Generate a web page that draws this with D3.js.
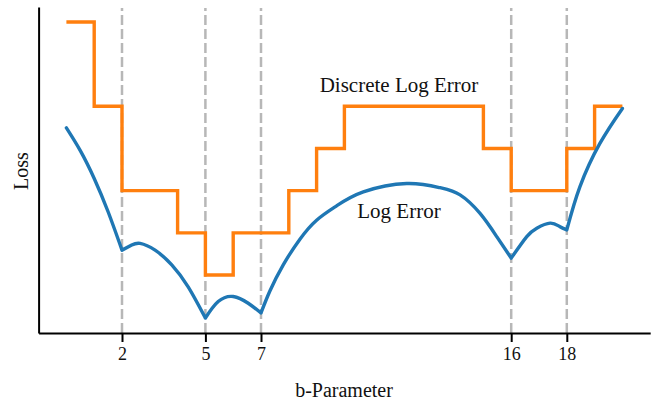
<!DOCTYPE html>
<html>
<head>
<meta charset="utf-8">
<script src="https://cdn.jsdelivr.net/npm/d3@7"></script>
<style>
    body { margin: 0; background: #fff; }
    text { font-family: "Liberation Serif", "DejaVu Serif", serif; fill: #111; }
</style>
</head>
<body>
<svg id="id-grafica" width="667" height="404"></svg>
<script>
// Valores del eje x marcados
const bTicks = [2, 5, 7, 16, 18];

// Error logarítmico discreto (escalones)
const stepB = [0, 1, 2, 4, 5, 6, 8, 9, 10, 15, 16, 18, 19, 20];
const stepLoss = [7, 5, 3, 2, 1, 2, 3, 4, 5, 4, 3, 4, 5, 5];

// Error logarítmico
const logB = [0, 0.5, 1, 1.5, 2,
    2.35, 2.65, 3.19, 3.79, 4.38, 5,
    5.46, 6.0, 6.54, 7,
    7.32, 7.8, 8.4, 9.0, 9.72, 10.68, 12.24, 13.44, 14.16, 14.88, 15.48, 16,
    16.56, 16.92, 17.4, 17.74, 18,
    18.47, 19.19, 20];
const logLoss = [4.49, 3.95, 3.29, 2.50, 1.59,
    1.71, 1.75, 1.59, 1.24, 0.72, -0.02,
    0.37, 0.49, 0.33, 0.10,
    0.62, 1.24, 1.85, 2.30, 2.64, 2.97, 3.17, 3.07, 2.90, 2.46, 1.91, 1.40,
    1.91, 2.11, 2.23, 2.15, 2.07,
    3.09, 4.12, 4.95];

let svg = d3.select("#id-grafica"),
    width = 667,
    height = 404;

// Escalas
let x = d3.scaleLinear().domain([-1, 21]).range([38.6, 650.2]);
let y = d3.scaleLinear().domain([-0.375, 7.355]).range([333, 7]);

// Líneas verticales discontinuas (de abajo hacia arriba)
svg.selectAll("line.guia")
    .data(bTicks)
    .enter()
    .append("line")
    .attr("class", "guia")
    .attr("x1", d => x(d)).attr("x2", d => x(d))
    .attr("y1", 333).attr("y2", 8)
    .attr("stroke", "#b7b7b7")
    .attr("stroke-width", 2.5)
    .attr("stroke-dasharray", "10,4");

// Escalones naranjas
let stepLine = d3.line()
    .x(d => x(d[0]))
    .y(d => y(d[1]))
    .curve(d3.curveStepAfter);

svg.append("path")
    .datum(d3.zip(stepB, stepLoss))
    .attr("d", stepLine)
    .attr("fill", "none")
    .attr("stroke", "#ff7f0e")
    .attr("stroke-width", 3.4);

// Curva azul: un tramo entre cada mínimo para que los picos queden marcados
let cortes = [0].concat(bTicks, [20]);
let puntos = d3.zip(logB, logLoss);
let tramos = d3.pairs(cortes).map(([a, b]) => puntos.filter(p => p[0] >= a && p[0] <= b));

let logLine = d3.line()
    .x(d => x(d[0]))
    .y(d => y(d[1]))
    .curve(d3.curveNatural);

svg.append("path")
    .attr("d", tramos.map(t => logLine(t)).join(""))
    .attr("fill", "none")
    .attr("stroke", "#1f77b4")
    .attr("stroke-width", 3.4)
    .attr("stroke-linecap", "round")
    .attr("stroke-linejoin", "round");

// Ejes
let ejeX = svg.append("g")
    .attr("transform", "translate(0,333)")
    .call(d3.axisBottom(x).tickValues(bTicks).tickSize(9).tickSizeOuter(0).tickPadding(5));

let ejeY = svg.append("g")
    .attr("transform", "translate(38.6,0)")
    .call(d3.axisLeft(y).tickValues([]).tickSizeOuter(0));

svg.selectAll(".domain").attr("stroke", "#000").attr("stroke-width", 2);
ejeX.selectAll(".tick line").attr("stroke", "#000").attr("stroke-width", 2);
ejeX.selectAll(".tick text")
    .attr("font-size", 18)
    .attr("fill", "#111");

// Títulos de ejes
svg.append("text")
    .attr("x", 344)
    .attr("y", 397)
    .attr("text-anchor", "middle")
    .attr("font-size", 20)
    .text("b-Parameter");

svg.append("text")
    .attr("transform", "translate(28,171) rotate(-90)")
    .attr("text-anchor", "middle")
    .attr("font-size", 20)
    .text("Loss");

// Etiquetas de las series
svg.append("text")
    .attr("x", 399)
    .attr("y", 92)
    .attr("text-anchor", "middle")
    .attr("font-size", 21)
    .text("Discrete Log Error");

svg.append("text")
    .attr("x", 399)
    .attr("y", 218)
    .attr("text-anchor", "middle")
    .attr("font-size", 21)
    .text("Log Error");
</script>
</body>
</html>
